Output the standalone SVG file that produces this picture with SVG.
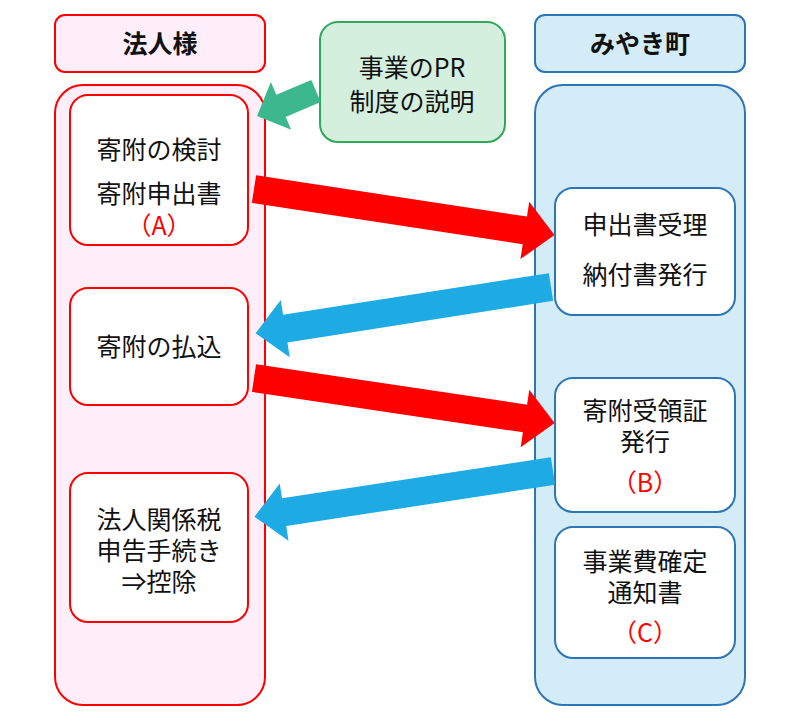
<svg xmlns="http://www.w3.org/2000/svg" width="800" height="725" viewBox="0 0 800 725">
<style>
text{font-family:"Noto Sans CJK JP","Noto Sans",sans-serif;font-size:25px;text-anchor:middle;fill:#111}
.h{font-weight:bold;font-size:25px}
.r{fill:#f00}
.pk{fill:#fdeefa;stroke:#f00;stroke-width:2}
.bl{fill:#d4ecf7;stroke:#2e75b6;stroke-width:2}
.wr{fill:#fff;stroke:#f00;stroke-width:2}
.wb{fill:#fff;stroke:#2e75b6;stroke-width:2}
</style>
<rect width="800" height="725" fill="#fff"/>
<g id="houjin-header"><rect class="pk" x="55" y="15" width="210" height="57" rx="10"/><text class="h" x="160" y="53">法人様</text></g>
<g id="houjin-col"><rect class="pk" x="55" y="85" width="210" height="620" rx="28"/></g>
<g id="miyaki-header"><rect class="bl" x="535" y="15" width="210" height="57" rx="10"/><text class="h" x="640" y="53">みやき町</text></g>
<g id="miyaki-col"><rect class="bl" x="535" y="85" width="210" height="620" rx="28"/></g>
<g id="pr"><rect x="320" y="22" width="185" height="120" rx="18" fill="#d5efdf" stroke="#2eaa5a" stroke-width="2"/><text x="412" y="77">事業のPR</text><text x="412" y="111">制度の説明</text></g>
<g id="l1"><rect class="wr" x="70" y="95" width="178" height="150" rx="18"/><text x="159" y="159">寄附の検討</text><text x="159" y="203">寄附申出書</text><text class="r" x="159" y="235">（A）</text></g>
<g id="l2"><rect class="wr" x="70" y="288" width="178" height="117" rx="18"/><text x="159" y="356">寄附の払込</text></g>
<g id="l3"><rect class="wr" x="70" y="473" width="178" height="149" rx="18"/><text x="159" y="529">法人関係税</text><text x="159" y="560">申告手続き</text><text x="159" y="591">⇒控除</text></g>
<g id="r1"><rect class="wb" x="555" y="188" width="180" height="127" rx="18"/><text x="645" y="234">申出書受理</text><text x="645" y="284">納付書発行</text></g>
<g id="r2"><rect class="wb" x="555" y="378" width="180" height="134" rx="18"/><text x="645" y="420">寄附受領証</text><text x="645" y="451">発行</text><text class="r" x="645" y="492">（B）</text></g>
<g id="r3"><rect class="wb" x="555" y="527" width="180" height="131" rx="18"/><text x="645" y="571">事業費確定</text><text x="645" y="602">通知書</text><text class="r" x="645" y="642">（C）</text></g>
<g id="connectors">
<polygon fill="#f00" transform="translate(254,189) rotate(8.7)" points="0,-14 274,-14 274,-29 304,0 274,29 274,14 0,14"/>
<polygon fill="#f00" transform="translate(254,378) rotate(8.5)" points="0,-14 274,-14 274,-29 304,0 274,29 274,14 0,14"/>
<polygon fill="#1eaae2" transform="translate(551,287) rotate(171.1)" points="0,-14 269,-14 269,-29 299,0 269,29 269,14 0,14"/>
<polygon fill="#1eaae2" transform="translate(553,471) rotate(171.3)" points="0,-14 272,-14 272,-29 302,0 272,29 272,14 0,14"/>
<polygon fill="#3db88e" transform="translate(316,91) rotate(157)" points="0,-12 38,-12 38,-26 64,0 38,26 38,12 0,12"/>
</g>
</svg>
